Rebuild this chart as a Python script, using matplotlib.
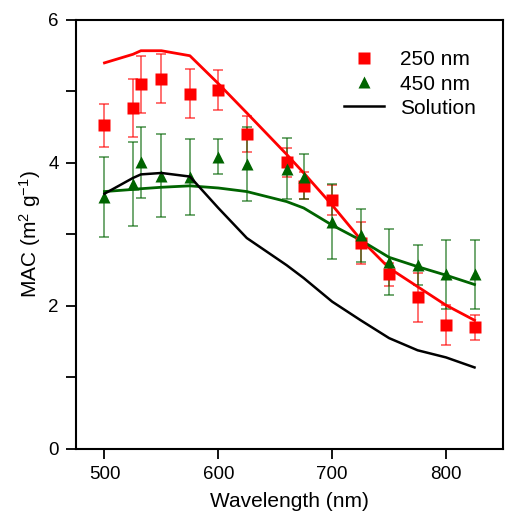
import matplotlib.pyplot as plt
import numpy as np

plt.rcParams['font.family'] = ['Liberation Sans', 'DejaVu Sans']
plt.rcParams['mathtext.fontset'] = 'custom'
plt.rcParams['mathtext.rm'] = 'Liberation Sans'
plt.rcParams['mathtext.it'] = 'Liberation Sans'

wavelength = [500, 525, 532, 550, 575, 600, 625, 660, 675, 700, 725, 750, 775, 800, 825]

mac_250 = [4.53, 4.77, 5.10, 5.18, 4.97, 5.02, 4.40, 4.01, 3.68, 3.48, 2.88, 2.44, 2.12, 1.73, 1.70]
err_250 = [0.30, 0.41, 0.40, 0.34, 0.34, 0.28, 0.25, 0.20, 0.19, 0.21, 0.29, 0.16, 0.34, 0.28, 0.17]

mac_450 = [3.52, 3.71, 4.01, 3.82, 3.80, 4.09, 3.99, 3.92, 3.81, 3.18, 2.99, 2.61, 2.57, 2.44, 2.44]
err_450 = [0.56, 0.59, 0.50, 0.58, 0.53, 0.24, 0.52, 0.43, 0.32, 0.53, 0.37, 0.46, 0.28, 0.48, 0.48]

fit_250 = [5.40, 5.52, 5.57, 5.57, 5.50, 5.11, 4.70, 4.12, 3.86, 3.41, 2.93, 2.53, 2.27, 2.01, 1.80]
fit_450 = [3.60, 3.63, 3.64, 3.66, 3.68, 3.65, 3.60, 3.46, 3.37, 3.13, 2.92, 2.68, 2.55, 2.43, 2.30]
solution = [3.57, 3.79, 3.84, 3.86, 3.81, 3.37, 2.95, 2.57, 2.39, 2.06, 1.80, 1.55, 1.38, 1.28, 1.14]

red = "#ff0000"
green = "#006400"

fig = plt.figure(figsize=(5.05, 5.19), dpi=100)
ax = fig.add_axes([0.1505, 0.135, 0.8455, 0.8265])

ax.errorbar(wavelength, mac_250, yerr=err_250, fmt="none", ecolor=red, alpha=0.6,
            elinewidth=1.3, capsize=3.6, capthick=1.3)
ax.errorbar(wavelength, mac_450, yerr=err_450, fmt="none", ecolor=green, alpha=0.6,
            elinewidth=1.3, capsize=3.6, capthick=1.3)

ax.plot(wavelength, fit_250, color=red, lw=2.0)
ax.plot(wavelength, fit_450, color=green, lw=2.0)

ax.plot(wavelength, mac_250, "s", color=red, ms=8, mec="none", label="250 nm")
ax.plot(wavelength, mac_450, "^", color=green, ms=9, mec="none", label="450 nm")
ax.plot(wavelength, solution, color="black", lw=1.8, label="Solution")

ax.set_xlim(475, 850)
ax.set_ylim(0, 6)
ax.set_xticks([500, 600, 700, 800])
ax.set_yticks(np.arange(0, 7, 1))
ax.set_yticklabels(["0", "", "2", "", "4", "", "6"])
ax.tick_params(direction="out", length=7.5, width=1.3, labelsize=13.5, pad=5)
for s in ax.spines.values():
    s.set_linewidth(1.5)

ax.set_xlabel("Wavelength (nm)", fontsize=15, labelpad=6)
ax.set_ylabel("MAC (m$^{2}$ g$^{-1}$)", fontsize=15, labelpad=4)

ax.legend(loc="upper right", frameon=False, fontsize=15, handlelength=1.9,
          handletextpad=0.8, labelspacing=0.25, borderaxespad=1.2,
          bbox_to_anchor=(1.015, 1.007))

plt.savefig("out.png", dpi=100)
